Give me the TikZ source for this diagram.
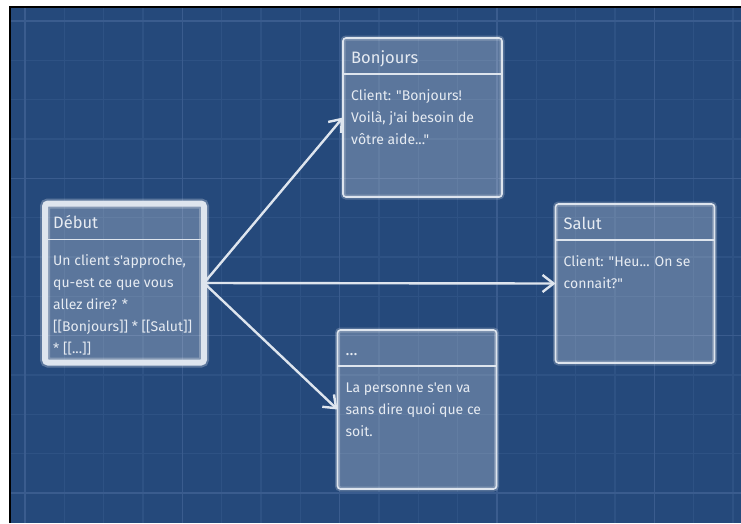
\documentclass[tikz,border=0pt]{standalone}
\usepackage{fontspec}
\newfontfamily\boardfont{Fira Sans}
\usetikzlibrary{arrows.meta}

\definecolor{board}{RGB}{37,73,123}
\definecolor{gridminor}{RGB}{46,82,132}
\definecolor{gridmajor}{RGB}{58,92,142}
\definecolor{ink}{RGB}{230,235,242}
\definecolor{edge}{RGB}{222,229,238}

\begin{document}
\begin{tikzpicture}[x=1pt,y=-1pt,
  passage/.style={rectangle, rounded corners=3pt, minimum width=159pt,
    minimum height=159pt, inner sep=0pt, outer sep=0pt,
    fill=white, fill opacity=0.25, draw=edge, line width=1.6pt,
    preaction={draw=white, draw opacity=0.22, line width=5pt}},
  current/.style={passage, line width=6pt,
    preaction={draw=white, draw opacity=0.25, line width=10pt}},
  titlerule/.style={draw=edge, line width=1.8pt},
  titletext/.style={anchor=base west, inner sep=0pt, text=ink,
    font=\boardfont\fontsize{16.5}{20}\selectfont},
  % multi-line text is anchored on the baseline of its last line
  bodytext/.style={anchor=base west, inner sep=0pt, text=ink, align=left,
    font=\boardfont\fontsize{14}{22}\selectfont},
  link/.style={draw=edge, line width=2.4pt,
    -{Straight Barb[length=11pt,width=17pt,line width=2.4pt]}},
  minorline/.style={draw=gridminor, line width=1.2pt},
  majorline/.style={draw=gridmajor, line width=1.4pt}]

\useasboundingbox (0,0) rectangle (741,523);
\fill[white] (0,0) rectangle (741,523);

% blueprint board with its grid
\fill[board] (10,7) rectangle (741,523);
\foreach \k in {0,...,18}{
  \pgfmathsetmacro\gx{25+39.33*\k}
  \draw[minorline] (\gx,8) -- (\gx,523);}
\foreach \k in {0,...,12}{
  \pgfmathsetmacro\gy{21+39.33*\k}
  \draw[minorline] (11,\gy) -- (741,\gy);}
\foreach \k in {0,4,8,12,16}{
  \pgfmathsetmacro\gx{25+39.33*\k}
  \draw[majorline] (\gx,8) -- (\gx,523);}
\foreach \k in {0,4,8,12}{
  \pgfmathsetmacro\gy{21+39.33*\k}
  \draw[majorline] (11,\gy) -- (741,\gy);}
\draw[black, line width=2.2pt] (10,523) -- (10,7) -- (741,7);

% passages
\node[current] (debut) at (124.5,283) {};
\node[passage] (bonjours) at (422.5,117.5) {};
\node[passage] (salut) at (635,283.5) {};
\node[passage] (dots) at (417,409.5) {};

% title bands
\foreach \p in {debut,bonjours,salut,dots}{
  \draw[titlerule] ([yshift=-36pt]\p.north west) -- ([yshift=-36pt]\p.north east);}

\node[titletext] (debut-title) at ([xshift=8pt,yshift=-25pt]debut.north west) {Début};
\node[bodytext] (debut-body) at ([xshift=8pt,yshift=-150pt]debut.north west)
  {Un client s'approche,\\qu-est ce que vous\\allez dire? *\\{}[[Bonjours]] * [[Salut]]\\* [[...]]};

\node[titletext] (bonjours-title) at ([xshift=8pt,yshift=-25pt]bonjours.north west) {Bonjours};
\node[bodytext] (bonjours-body) at ([xshift=8pt,yshift=-106pt]bonjours.north west)
  {Client: "Bonjours!\\Voilà, j'ai besoin de\\vôtre aide..."};

\node[titletext] (salut-title) at ([xshift=8pt,yshift=-25pt]salut.north west) {Salut};
\node[bodytext] (salut-body) at ([xshift=8pt,yshift=-84pt]salut.north west)
  {Client: "Heu... On se\\connait?"};

\node[titletext] (dots-title) at ([xshift=8pt,yshift=-25pt]dots.north west) {...};
\node[bodytext] (dots-body) at ([xshift=8pt,yshift=-106pt]dots.north west)
  {La personne s'en va\\sans dire quoi que ce\\soit.};

% links between passages
\draw[link] (debut.east) -- (bonjours.west);
\draw[link] (debut.east) -- (salut.west);
\draw[link] (debut.east) -- (dots.west);
\end{tikzpicture}
\end{document}
